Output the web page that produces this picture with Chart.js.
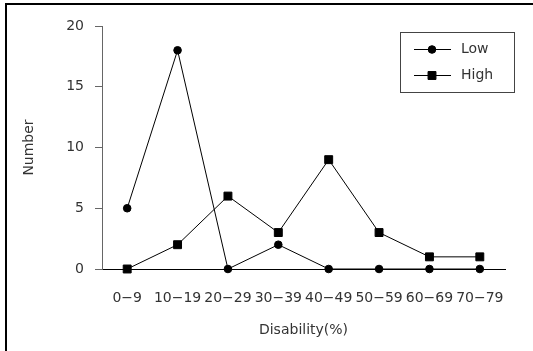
<!DOCTYPE html>
<html>
<head>
<meta charset="utf-8">
<script src="https://cdn.jsdelivr.net/npm/chart.js@4.4.1/dist/chart.umd.min.js"></script>
<style>
  html, body { margin: 0; padding: 0; background: #fff; }
  #wrap { position: relative; width: 533px; height: 351px; overflow: hidden; }
  #frame { position: absolute; left: 5px; top: 3px; right: -5px; bottom: -5px;
           border-top: 2px solid #000; border-left: 2px solid #000; }
  canvas { position: absolute; left: 0; top: 0; }
</style>
</head>
<body>
<div id="wrap">
  <div id="frame"></div>
  <canvas id="grafico" width="533" height="351"></canvas>
</div>
<script>
// datos
const categories = ["0\u22129", "10\u221219", "20\u221229", "30\u221239", "40\u221249", "50\u221259", "60\u221269", "70\u221279"];
const lowValues = [5, 18, 0, 2, 0, 0, 0, 0];
const highValues = [0, 2, 6, 3, 9, 3, 1, 1];
const yTicks = [0, 5, 10, 15, 20];
const seriesNames = ["Low", "High"];

const FONT = { family: "DejaVu Sans", size: 14 };
const TEXT = "#333";

// leyenda con recuadro: línea + marcador + texto
const boxLegend = {
    id: "boxLegend",
    afterDraw(chart) {
        const ctx = chart.ctx;
        ctx.save();
        ctx.strokeStyle = "#444";
        ctx.lineWidth = 1;
        ctx.strokeRect(400.5, 32.5, 114, 60);
        const rows = [49.5, 75.5];
        chart.data.datasets.forEach((ds, i) => {
            const y = rows[i];
            ctx.strokeStyle = "#000";
            ctx.beginPath();
            ctx.moveTo(414, y);
            ctx.lineTo(451, y);
            ctx.stroke();
            ctx.fillStyle = "#000";
            Chart.helpers.drawPoint(ctx, {
                pointStyle: ds.pointStyle,
                radius: ds.pointRadius,
                borderWidth: 1
            }, 432, y);
            ctx.fillStyle = TEXT;
            ctx.font = FONT.size + "px " + FONT.family;
            ctx.textBaseline = "middle";
            ctx.textAlign = "left";
            ctx.fillText(ds.label, 461, y);
        });
        ctx.restore();
    }
};

const ctx = document.getElementById("grafico").getContext("2d");
new Chart(ctx, {
    type: "line",
    data: {
        labels: categories,
        datasets: [
            {
                label: seriesNames[0],
                data: lowValues,
                borderColor: "#000",
                backgroundColor: "#000",
                borderWidth: 1,
                pointStyle: "circle",
                pointRadius: 3.8,
                pointBorderWidth: 1,
                tension: 0,
                clip: false
            },
            {
                label: seriesNames[1],
                data: highValues,
                borderColor: "#000",
                backgroundColor: "#000",
                borderWidth: 1,
                pointStyle: "rect",
                pointRadius: 5.6,
                pointBorderWidth: 1,
                tension: 0,
                clip: false
            }
        ]
    },
    options: {
        responsive: false,
        animation: false,
        layout: { padding: { left: 0, top: 26, right: 28, bottom: 0 } },
        plugins: { legend: { display: false }, tooltip: { enabled: false } },
        scales: {
            x: {
                offset: true,
                grid: { display: false, drawTicks: false },
                border: { display: true, color: "#000", width: 1 },
                ticks: { color: TEXT, font: FONT, padding: 21, maxRotation: 0, autoSkip: false },
                title: { display: true, text: "Disability(%)", color: TEXT, font: FONT, padding: { top: 0, bottom: 12.6 } },
                afterFit: (s) => { s.height = 82; }
            },
            y: {
                min: 0,
                max: 20,
                afterBuildTicks: (s) => { s.ticks = yTicks.map(v => ({ value: v })); },
                grid: { drawOnChartArea: false, drawTicks: true, tickLength: 7, color: "#666" },
                border: { display: true, color: "#666", width: 1 },
                ticks: { color: TEXT, font: FONT, padding: 11 },
                title: { display: true, text: "Number", color: TEXT, font: FONT, padding: { top: 20.5, bottom: 0 } },
                afterFit: (s) => { s.width = 102; }
            }
        }
    },
    plugins: [boxLegend]
});
</script>
</body>
</html>
